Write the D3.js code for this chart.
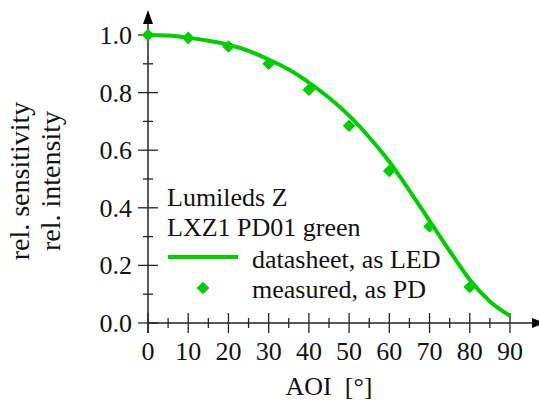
<!DOCTYPE html>
<html>
<head>
<meta charset="utf-8">
<script src="https://cdn.jsdelivr.net/npm/d3@7"></script>
<style>
  body { margin: 0; background: #fff; }
</style>
</head>
<body>
<svg></svg>
<script>
// datasheet curve (as LED)
const sheetAoi = [0, 5, 10, 15, 20, 25, 30, 35, 40, 45, 50, 55, 60, 65, 70, 75, 80, 85, 90];
const sheetRel = [1.0, 0.998, 0.99, 0.98, 0.966, 0.945, 0.915, 0.88, 0.835, 0.782, 0.72, 0.645, 0.56, 0.46, 0.355, 0.25, 0.15, 0.075, 0.025];
// measured points (as PD)
const measAoi = [0, 10, 20, 30, 40, 50, 60, 70, 80];
const measRel = [1.0, 0.99, 0.96, 0.90, 0.81, 0.685, 0.528, 0.335, 0.125];
const xTicks = [0, 10, 20, 30, 40, 50, 60, 70, 80, 90];
const yTicks = [0.0, 0.2, 0.4, 0.6, 0.8, 1.0];
const legendTitle = ["Lumileds Z", "LXZ1 PD01 green"];
const legendItems = ["datasheet, as LED", "measured, as PD"];

const w = 539, h = 403;
const green = "#00cc00";
const font = '"Liberation Serif"';
const svg = d3.select("svg").attr("width", w).attr("height", h);

const x = d3.scaleLinear().domain([0, 90]).range([148, 510]);
const y = d3.scaleLinear().domain([0, 1]).range([323, 35]);

function txt(sel, size) {
  return sel.style("font-family", font).attr("font-size", size).attr("fill", "#111");
}

// axes lines
svg.append("line").attr("x1", 148).attr("x2", 534).attr("y1", y(0)).attr("y2", y(0))
  .attr("stroke", "#222").attr("stroke-width", 1.5);
svg.append("line").attr("x1", x(0)).attr("x2", x(0)).attr("y1", 333).attr("y2", 20)
  .attr("stroke", "#222").attr("stroke-width", 1.5);
// arrows
svg.append("path").attr("d", `M${x(0) - 5},24 L${x(0)},10 L${x(0) + 5},24 Z`).attr("fill", "#000");
svg.append("path").attr("d", `M532,${y(0) - 5} L545,${y(0)} L532,${y(0) + 5} Z`).attr("fill", "#000");

// x ticks, major and minor
const xMinor = d3.range(5, 90, 10);
svg.selectAll(".xmaj").data(xTicks).enter().append("line")
  .attr("x1", d => x(d)).attr("x2", d => x(d))
  .attr("y1", y(0) - 10).attr("y2", y(0) + 10)
  .attr("stroke", "#222").attr("stroke-width", 1.3);
svg.selectAll(".xmin").data(xMinor).enter().append("line")
  .attr("x1", d => x(d)).attr("x2", d => x(d))
  .attr("y1", y(0) - 5).attr("y2", y(0) + 5)
  .attr("stroke", "#222").attr("stroke-width", 1.3);
txt(svg.selectAll(".xlab").data(xTicks).enter().append("text"), 26)
  .attr("x", d => x(d)).attr("y", 360)
  .attr("text-anchor", "middle")
  .text(d => d);

// y ticks
const yMinor = d3.range(0.1, 1.0, 0.2);
svg.selectAll(".ymaj").data(yTicks).enter().append("line")
  .attr("x1", x(0) - 10).attr("x2", x(0) + 10)
  .attr("y1", d => y(d)).attr("y2", d => y(d))
  .attr("stroke", "#222").attr("stroke-width", 1.3);
svg.selectAll(".ymin").data(yMinor).enter().append("line")
  .attr("x1", x(0) - 5).attr("x2", x(0) + 5)
  .attr("y1", d => y(d)).attr("y2", d => y(d))
  .attr("stroke", "#222").attr("stroke-width", 1.3);
txt(svg.selectAll(".ylab").data(yTicks).enter().append("text"), 26)
  .attr("x", 132).attr("y", d => y(d) + 9)
  .attr("text-anchor", "end")
  .text(d => d.toFixed(1));

// datasheet line
const line = d3.line()
  .x(d => x(d[0])).y(d => y(d[1]))
  .curve(d3.curveMonotoneX);
svg.append("path")
  .datum(sheetAoi.map((a, i) => [a, sheetRel[i]]))
  .attr("d", line)
  .attr("fill", "none").attr("stroke", green).attr("stroke-width", 4);

// measured diamonds
const diamond = d3.symbol().type(d3.symbolSquare).size(80);
svg.selectAll(".pt").data(measAoi).enter().append("path")
  .attr("d", diamond)
  .attr("transform", (d, i) => `translate(${x(d)},${y(measRel[i])}) rotate(45)`)
  .attr("fill", green);

// legend
txt(svg.selectAll(".lt").data(legendTitle).enter().append("text"), 26)
  .attr("x", 167).attr("y", (d, i) => 206 + i * 30)
  .text(d => d);
svg.append("line").attr("x1", 168).attr("x2", 238).attr("y1", 257).attr("y2", 257)
  .attr("stroke", green).attr("stroke-width", 4);
svg.append("path").attr("d", diamond).attr("transform", "translate(203,288) rotate(45)").attr("fill", green);
txt(svg.selectAll(".li").data(legendItems).enter().append("text"), 26)
  .attr("x", 252).attr("y", (d, i) => 268 + i * 30)
  .text(d => d);

// axis titles
txt(svg.append("text"), 26).attr("x", x(45)).attr("y", 395).attr("text-anchor", "middle")
  .attr("xml:space", "preserve").text("AOI  [°]");
txt(svg.append("text"), 28).attr("transform", "translate(29,181) rotate(-90)")
  .attr("text-anchor", "middle").text("rel. sensitivity");
txt(svg.append("text"), 28).attr("transform", "translate(60,181) rotate(-90)")
  .attr("text-anchor", "middle").text("rel. intensity");
</script>
</body>
</html>
